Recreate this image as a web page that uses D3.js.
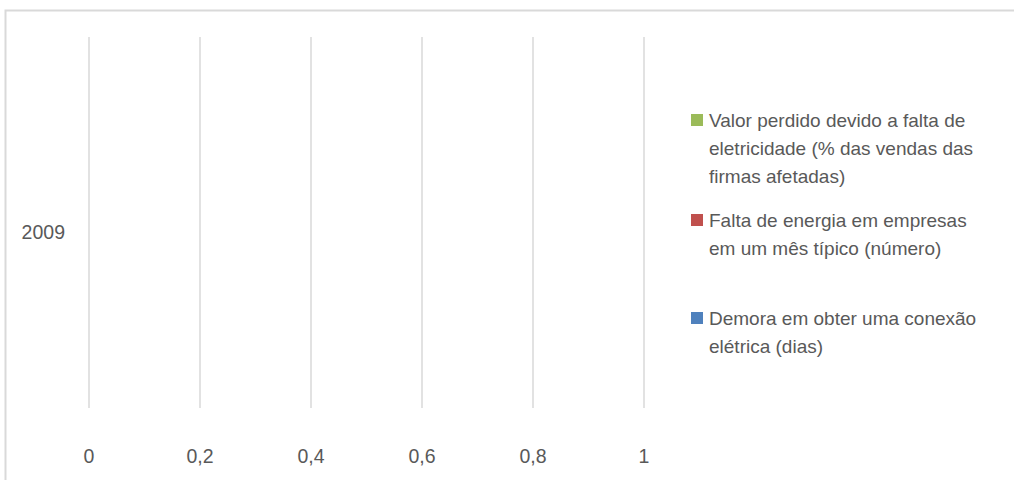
<!DOCTYPE html>
<html><head><meta charset="utf-8">
<script src="https://cdn.jsdelivr.net/npm/d3@7"></script>
<style>html,body{margin:0;padding:0;background:#fff}svg{display:block}</style>
</head><body>
<script>
const categories = ["2009"];
const seriesNames = [
  "Demora em obter uma conexão elétrica (dias)",
  "Falta de energia em empresas em um mês típico (número)",
  "Valor perdido devido a falta de eletricidade (% das vendas das firmas afetadas)"
];
const seriesColors = ["#4F81BD", "#C0504D", "#9BBB59"];
const demoraValues = [null];
const faltaValues = [null];
const valorValues = [null];
const xTicks = [0, 0.2, 0.4, 0.6, 0.8, 1];
const legendLines = [
  ["Valor perdido devido a falta de", "eletricidade (% das vendas das", "firmas afetadas)"],
  ["Falta de energia em empresas", "em um mês típico (número)"],
  ["Demora em obter uma conexão", "elétrica (dias)"]
];
const legendColors = ["#9BBB59", "#C0504D", "#4F81BD"];

const W = 1014, H = 480;
const svg = d3.select("body").append("svg").attr("width", W).attr("height", H);
const font = "'Liberation Sans', Arial, sans-serif";
const txt = "#595959";

svg.append("rect").attr("x", 5.5).attr("y", 10.5).attr("width", 1020).attr("height", 500)
  .attr("fill", "#fff").attr("stroke", "#d9d9d9").attr("stroke-width", 2);

const plot = {left: 89, right: 644, top: 37, bottom: 408};
const x = d3.scaleLinear().domain([0, 1]).range([plot.left, plot.right]);
const y = d3.scaleBand().domain(categories).range([plot.top, plot.bottom]).paddingInner(0.5).paddingOuter(0.25);

// gridlines
svg.append("g").selectAll("line").data(xTicks).join("line")
  .attr("x1", d => x(d)).attr("x2", d => x(d))
  .attr("y1", plot.top).attr("y2", plot.bottom)
  .attr("stroke", "#d9d9d9").attr("stroke-width", 1.5);

// bars (no data)
const series = [demoraValues, faltaValues, valorValues];
const inner = d3.scaleBand().domain(d3.range(series.length)).range([0, y.bandwidth()]);
series.forEach((vals, si) => {
  svg.append("g").selectAll("rect").data(vals.map((v, i) => ({v, c: categories[i]})).filter(d => d.v != null))
    .join("rect")
    .attr("x", x(0)).attr("y", d => y(d.c) + inner(si))
    .attr("width", d => x(d.v) - x(0)).attr("height", inner.bandwidth())
    .attr("fill", seriesColors[si]);
});

// x axis labels
const fmt = d => String(d).replace(".", ",");
svg.append("g").selectAll("text").data(xTicks).join("text")
  .attr("x", d => x(d)).attr("y", 463)
  .attr("text-anchor", "middle").attr("fill", txt)
  .style("font-family", font).style("font-size", "19.5px")
  .text(fmt);

// y axis labels
svg.append("g").selectAll("text").data(categories).join("text")
  .attr("x", 65).attr("y", d => y(d) + y.bandwidth() / 2 + 16.5)
  .attr("text-anchor", "end").attr("fill", txt)
  .style("font-family", font).style("font-size", "19.5px")
  .text(d => d);

// legend
const legendTop = [127, 227, 325];
const lh = 28;
const lg = svg.append("g");
legendLines.forEach((lines, i) => {
  lg.append("rect").attr("x", 691).attr("y", legendTop[i] - 13).attr("width", 12).attr("height", 12)
    .attr("fill", legendColors[i]);
  lines.forEach((l, j) => {
    lg.append("text").attr("x", 709).attr("y", legendTop[i] + j * lh)
      .attr("fill", txt).style("font-family", font).style("font-size", "19px")
      .text(l);
  });
});
</script>
</body></html>
